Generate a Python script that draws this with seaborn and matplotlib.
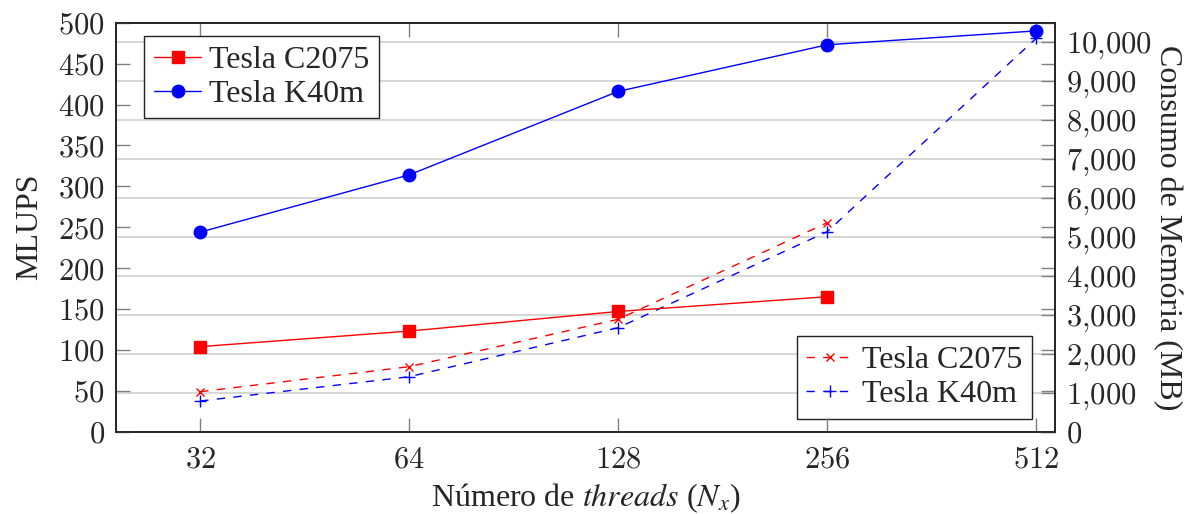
import numpy as np
import pandas as pd
import seaborn as sns
from matplotlib import pyplot as plt

# values
threads = [32, 64, 128, 256, 512]
mlups_c2075 = [104, 123, 147, 165]
mlups_k40m = [244, 314, 416, 473, 490]
mem_c2075 = [1026, 1667, 2882, 5359]
mem_k40m = [787, 1410, 2667, 5128, 10087]

mlups_ticks = list(range(0, 501, 50))
mem_ticks = list(range(0, 10001, 1000))

sns.set_style("ticks")
plt.rcParams["font.family"] = ["Liberation Serif", "DejaVu Serif"]
plt.rcParams["mathtext.fontset"] = "cm"

FS = 22
TXT = 23
GRID = "#d3d3d3"
TICK = "#808080"

fig = plt.figure(figsize=(11.92, 5.14), dpi=100)
ax = fig.add_axes([116 / 1192, 1 - 431.7 / 514, 939 / 1192, 409 / 514])
ax2 = ax.twinx()
# solid lines of the left axis on top of the right axis grid
ax.set_zorder(ax2.get_zorder() + 1)
ax.patch.set_visible(False)

line_kw = dict(linewidth=1.0, markeredgewidth=1.0)
sns.lineplot(x=threads[:4], y=mlups_c2075, ax=ax, color="red", marker="s",
             markersize=8, markeredgecolor="red", label="Tesla C2075", **line_kw)
sns.lineplot(x=threads, y=mlups_k40m, ax=ax, color="blue", marker="o",
             markersize=9, markeredgecolor="blue", label="Tesla K40m", **line_kw)

dash = (0, (6, 6))
sns.lineplot(x=threads[:4], y=mem_c2075, ax=ax2, color="red", marker="x",
             markersize=6, markeredgecolor="red", linestyle=dash,
             label="Tesla C2075", **line_kw)
sns.lineplot(x=threads, y=mem_k40m, ax=ax2, color="blue", marker="+",
             markersize=8, markeredgecolor="blue", linestyle=dash,
             label="Tesla K40m", **line_kw)

for a in (ax, ax2):
    a.set_xscale("log", base=2)
    a.set_xlim(24.2, 545)
    a.minorticks_off()

ax.set_xticks(threads, labels=[f"${t}$" for t in threads])
ax.set_ylim(0, 500)
ax.set_yticks(mlups_ticks, labels=[f"${v}$" for v in mlups_ticks])
ax2.set_ylim(0, 10487)
ax2.set_yticks(mem_ticks, labels=[f"${v:,}$".replace(",", "{,}") for v in mem_ticks])

ax.tick_params(axis="both", which="major", direction="in", length=10, width=1,
               color=TICK, labelsize=FS, top=True, right=True, pad=8)
ax.tick_params(axis="x", pad=10)
ax2.tick_params(axis="y", which="major", direction="in", length=10, width=1,
                color=TICK, labelsize=FS, pad=8)
ax2.yaxis.grid(True, color=GRID, linewidth=1.3)
ax.grid(False)

for a in (ax, ax2):
    for s in a.spines.values():
        s.set_visible(True)
        s.set_color("#222222")
        s.set_linewidth(1.2)

ax.set_xlabel(r"Número de $\it{threads}$ ($N_x$)", fontsize=TXT, labelpad=5,
              math_fontfamily="stix")
ax.set_ylabel("MLUPS", fontsize=TXT, labelpad=10)
ax2.set_ylabel("Consumo de Memória (MB)", fontsize=TXT, rotation=-90,
               labelpad=22)

leg_kw = dict(fontsize=TXT, frameon=True, fancybox=False, framealpha=1,
              edgecolor="#222222", borderaxespad=0, handlelength=1.5,
              handletextpad=0.25, labelspacing=0.15, borderpad=0.3)
leg1 = ax.legend(loc="upper left", bbox_to_anchor=(0.0298, 0.968), **leg_kw)
leg2 = ax2.legend(loc="lower right", bbox_to_anchor=(0.9755, 0.031), **leg_kw)
for leg in (leg1, leg2):
    leg.get_frame().set_linewidth(1.0)

fig.savefig("out.png", dpi=100)
